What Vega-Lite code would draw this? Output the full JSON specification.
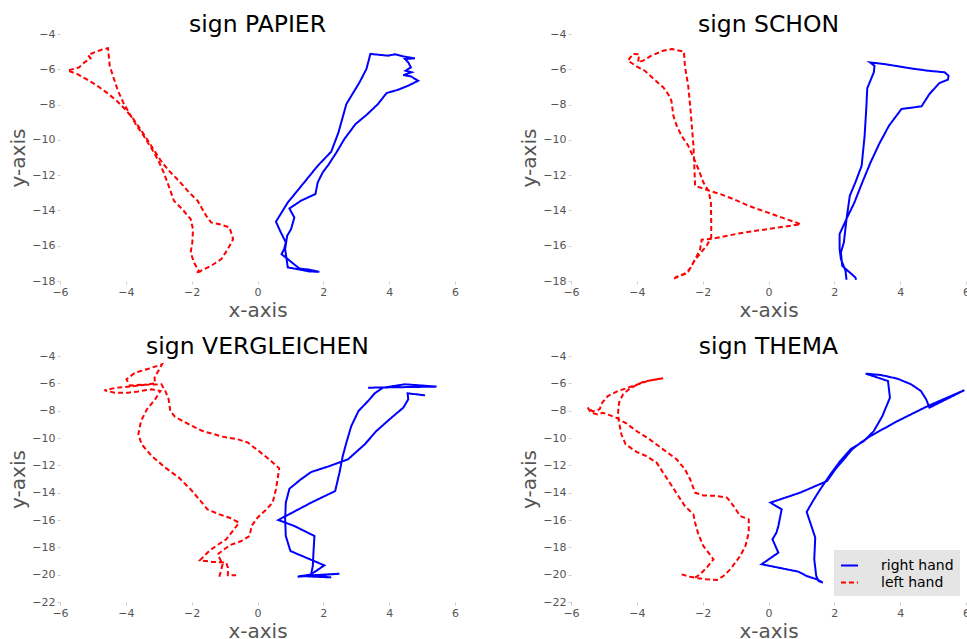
{
"$schema":"https://vega.github.io/schema/vega-lite/v6.json",
"padding":{"left":8,"top":12,"right":0,"bottom":0},
"background":"white",
"columns":2,
"spacing":{"row":14,"column":60},
"resolve":{"legend":{"color":"independent","strokeDash":"independent"}},
"config":{
 "font":"DejaVu Sans",
 "view":{"stroke":null},
 "title":{"fontSize":23.5,"fontWeight":"normal","color":"black","offset":-8,"anchor":"middle"},
 "axis":{"domain":false,"grid":false,"labelColor":"#555","labelFontSize":11,"titleColor":"#555","titleFontSize":20,"titleFontWeight":"normal","tickColor":"#ccc","tickSize":3,"labelPadding":2,"labelFlush":false},
 "axisX":{"titlePadding":3},
 "axisY":{"titlePadding":3},
 "legend":{"orient":"bottom-right","fillColor":"#e5e5e5","padding":6,"offset":6,"labelFontSize":14,"labelColor":"black","symbolType":"stroke","symbolSize":289,"symbolStrokeWidth":2,"labelOffset":22,"rowPadding":0}
},
"concat":[
{
 "width":395,"height":247,"title":"sign PAPIER",
 "data":{"values":[
{"h":"left hand","i":1,"x":-1.85,"y":-17.5},{"h":"left hand","i":2,"x":-1.77,"y":-17.48},{"h":"left hand","i":3,"x":-1.93,"y":-16.95},{"h":"left hand","i":4,"x":-2.03,"y":-16.38},{"h":"left hand","i":5,"x":-1.98,"y":-15.81},{"h":"left hand","i":6,"x":-1.96,"y":-15.06},{"h":"left hand","i":7,"x":-2.03,"y":-14.49},{"h":"left hand","i":8,"x":-2.29,"y":-13.92},{"h":"left hand","i":9,"x":-2.54,"y":-13.45},{"h":"left hand","i":10,"x":-2.7,"y":-12.6},{"h":"left hand","i":11,"x":-2.85,"y":-11.85},{"h":"left hand","i":12,"x":-3.01,"y":-11.18},{"h":"left hand","i":13,"x":-3.21,"y":-10.52},{"h":"left hand","i":14,"x":-3.46,"y":-9.77},{"h":"left hand","i":15,"x":-3.67,"y":-9.2},{"h":"left hand","i":16,"x":-3.88,"y":-8.54},{"h":"left hand","i":17,"x":-4.08,"y":-7.88},{"h":"left hand","i":18,"x":-4.24,"y":-7.21},{"h":"left hand","i":19,"x":-4.36,"y":-6.55},{"h":"left hand","i":20,"x":-4.49,"y":-5.8},{"h":"left hand","i":21,"x":-4.54,"y":-4.81},{"h":"left hand","i":22,"x":-4.74,"y":-4.89},{"h":"left hand","i":23,"x":-4.95,"y":-5.04},{"h":"left hand","i":24,"x":-5.15,"y":-5.19},{"h":"left hand","i":25,"x":-5.07,"y":-5.38},{"h":"left hand","i":26,"x":-5.26,"y":-5.61},{"h":"left hand","i":27,"x":-5.42,"y":-5.89},{"h":"left hand","i":28,"x":-5.77,"y":-6.08},{"h":"left hand","i":29,"x":-5.47,"y":-6.27},{"h":"left hand","i":30,"x":-5.21,"y":-6.55},{"h":"left hand","i":31,"x":-4.9,"y":-6.89},{"h":"left hand","i":32,"x":-4.59,"y":-7.31},{"h":"left hand","i":33,"x":-4.28,"y":-7.78},{"h":"left hand","i":34,"x":-4.03,"y":-8.25},{"h":"left hand","i":35,"x":-3.77,"y":-8.82},{"h":"left hand","i":36,"x":-3.56,"y":-9.39},{"h":"left hand","i":37,"x":-3.36,"y":-9.95},{"h":"left hand","i":38,"x":-3.1,"y":-10.71},{"h":"left hand","i":39,"x":-2.9,"y":-11.28},{"h":"left hand","i":40,"x":-2.64,"y":-11.85},{"h":"left hand","i":41,"x":-2.39,"y":-12.32},{"h":"left hand","i":42,"x":-2.08,"y":-12.98},{"h":"left hand","i":43,"x":-1.82,"y":-13.45},{"h":"left hand","i":44,"x":-1.56,"y":-14.3},{"h":"left hand","i":45,"x":-1.41,"y":-14.68},{"h":"left hand","i":46,"x":-1.15,"y":-14.78},{"h":"left hand","i":47,"x":-0.85,"y":-14.96},{"h":"left hand","i":48,"x":-0.74,"y":-15.63},{"h":"left hand","i":49,"x":-0.9,"y":-16.19},{"h":"left hand","i":50,"x":-1.1,"y":-16.76},{"h":"left hand","i":51,"x":-1.41,"y":-17.14},{"h":"left hand","i":52,"x":-1.62,"y":-17.33},{"h":"left hand","i":53,"x":-1.77,"y":-17.48},
{"h":"right hand","i":1,"x":1.88,"y":-17.48},{"h":"right hand","i":2,"x":1.58,"y":-17.36},{"h":"right hand","i":3,"x":1.27,"y":-17.29},{"h":"right hand","i":4,"x":1.17,"y":-17.14},{"h":"right hand","i":5,"x":0.92,"y":-16.76},{"h":"right hand","i":6,"x":0.73,"y":-16.48},{"h":"right hand","i":7,"x":0.81,"y":-16.19},{"h":"right hand","i":8,"x":0.86,"y":-15.81},{"h":"right hand","i":9,"x":0.71,"y":-15.25},{"h":"right hand","i":10,"x":0.56,"y":-14.64},{"h":"right hand","i":11,"x":0.92,"y":-13.55},{"h":"right hand","i":12,"x":1.42,"y":-12.41},{"h":"right hand","i":13,"x":1.83,"y":-11.47},{"h":"right hand","i":14,"x":2.24,"y":-10.67},{"h":"right hand","i":15,"x":2.46,"y":-9.58},{"h":"right hand","i":16,"x":2.7,"y":-7.97},{"h":"right hand","i":17,"x":3.1,"y":-6.74},{"h":"right hand","i":18,"x":3.31,"y":-5.98},{"h":"right hand","i":19,"x":3.43,"y":-5.13},{"h":"right hand","i":20,"x":3.97,"y":-5.23},{"h":"right hand","i":21,"x":4.17,"y":-5.15},{"h":"right hand","i":22,"x":4.43,"y":-5.27},{"h":"right hand","i":23,"x":4.78,"y":-5.38},{"h":"right hand","i":24,"x":4.48,"y":-5.42},{"h":"right hand","i":25,"x":4.58,"y":-5.61},{"h":"right hand","i":26,"x":4.66,"y":-5.89},{"h":"right hand","i":27,"x":4.5,"y":-6.08},{"h":"right hand","i":28,"x":4.68,"y":-6.17},{"h":"right hand","i":29,"x":4.43,"y":-6.33},{"h":"right hand","i":30,"x":4.66,"y":-6.4},{"h":"right hand","i":31,"x":4.88,"y":-6.65},{"h":"right hand","i":32,"x":4.58,"y":-6.93},{"h":"right hand","i":33,"x":4.27,"y":-7.16},{"h":"right hand","i":34,"x":3.92,"y":-7.35},{"h":"right hand","i":35,"x":3.66,"y":-7.97},{"h":"right hand","i":36,"x":3.31,"y":-8.59},{"h":"right hand","i":37,"x":2.98,"y":-9.1},{"h":"right hand","i":38,"x":2.64,"y":-9.95},{"h":"right hand","i":39,"x":2.4,"y":-10.71},{"h":"right hand","i":40,"x":2.16,"y":-11.4},{"h":"right hand","i":41,"x":1.98,"y":-11.85},{"h":"right hand","i":42,"x":1.83,"y":-12.41},{"h":"right hand","i":43,"x":1.76,"y":-13.07},{"h":"right hand","i":44,"x":1.32,"y":-13.45},{"h":"right hand","i":45,"x":0.97,"y":-13.89},{"h":"right hand","i":46,"x":1.12,"y":-14.4},{"h":"right hand","i":47,"x":1.02,"y":-15.06},{"h":"right hand","i":48,"x":0.9,"y":-15.44},{"h":"right hand","i":49,"x":0.84,"y":-16.19},{"h":"right hand","i":50,"x":0.92,"y":-17.23},{"h":"right hand","i":51,"x":1.22,"y":-17.33},{"h":"right hand","i":52,"x":1.58,"y":-17.46},{"h":"right hand","i":53,"x":1.88,"y":-17.48}
 ]},
 "mark":{"type":"line","strokeWidth":2,"clip":true},
 "encoding":{
  "x":{"field":"x","type":"quantitative","scale":{"domain":[-6,6],"nice":false,"zero":false},"axis":{"values":[-6,-4,-2,0,2,4,6],"title":"x-axis"}},
  "y":{"field":"y","type":"quantitative","scale":{"domain":[-18,-4],"nice":false,"zero":false},"axis":{"values":[-4,-6,-8,-10,-12,-14,-16,-18],"title":"y-axis"}},
  "color":{"field":"h","type":"nominal","title":null,"scale":{"domain":["right hand","left hand"],"range":["#0000ff","#ff0000"]},"legend":null},
  "strokeDash":{"field":"h","type":"nominal","title":null,"scale":{"domain":["right hand","left hand"],"range":[[1,0],[5,3]]},"legend":null},
  "order":{"field":"i","type":"quantitative"}
 }
},
{
 "width":395,"height":247,"title":"sign SCHON",
 "data":{"values":[
{"h":"left hand","i":1,"x":-2.87,"y":-17.86},{"h":"left hand","i":2,"x":-2.69,"y":-17.7},{"h":"left hand","i":3,"x":-2.54,"y":-17.61},{"h":"left hand","i":4,"x":-2.38,"y":-17.29},{"h":"left hand","i":5,"x":-2.23,"y":-16.76},{"h":"left hand","i":6,"x":-2.08,"y":-16.23},{"h":"left hand","i":7,"x":-2.03,"y":-15.66},{"h":"left hand","i":8,"x":-1.67,"y":-15.59},{"h":"left hand","i":9,"x":-0.86,"y":-15.29},{"h":"left hand","i":10,"x":-0.04,"y":-15.06},{"h":"left hand","i":11,"x":0.98,"y":-14.78},{"h":"left hand","i":12,"x":-0.04,"y":-14.11},{"h":"left hand","i":13,"x":-0.6,"y":-13.74},{"h":"left hand","i":14,"x":-1.06,"y":-13.36},{"h":"left hand","i":15,"x":-1.47,"y":-13.07},{"h":"left hand","i":16,"x":-1.88,"y":-12.83},{"h":"left hand","i":17,"x":-2.23,"y":-12.6},{"h":"left hand","i":18,"x":-2.25,"y":-11.66},{"h":"left hand","i":19,"x":-2.28,"y":-10.33},{"h":"left hand","i":20,"x":-2.33,"y":-9.2},{"h":"left hand","i":21,"x":-2.38,"y":-8.06},{"h":"left hand","i":22,"x":-2.44,"y":-6.93},{"h":"left hand","i":23,"x":-2.54,"y":-5.8},{"h":"left hand","i":24,"x":-2.57,"y":-5.0},{"h":"left hand","i":25,"x":-2.94,"y":-4.85},{"h":"left hand","i":26,"x":-3.2,"y":-4.95},{"h":"left hand","i":27,"x":-3.56,"y":-5.23},{"h":"left hand","i":28,"x":-3.81,"y":-5.51},{"h":"left hand","i":29,"x":-3.96,"y":-5.61},{"h":"left hand","i":30,"x":-3.93,"y":-5.15},{"h":"left hand","i":31,"x":-4.12,"y":-5.13},{"h":"left hand","i":32,"x":-4.27,"y":-5.51},{"h":"left hand","i":33,"x":-4.01,"y":-5.83},{"h":"left hand","i":34,"x":-3.76,"y":-6.08},{"h":"left hand","i":35,"x":-3.51,"y":-6.51},{"h":"left hand","i":36,"x":-3.2,"y":-7.02},{"h":"left hand","i":37,"x":-3.05,"y":-7.4},{"h":"left hand","i":38,"x":-2.95,"y":-7.78},{"h":"left hand","i":39,"x":-2.89,"y":-8.63},{"h":"left hand","i":40,"x":-2.79,"y":-9.2},{"h":"left hand","i":41,"x":-2.64,"y":-9.77},{"h":"left hand","i":42,"x":-2.44,"y":-10.33},{"h":"left hand","i":43,"x":-2.28,"y":-10.99},{"h":"left hand","i":44,"x":-2.13,"y":-11.66},{"h":"left hand","i":45,"x":-1.98,"y":-12.41},{"h":"left hand","i":46,"x":-1.82,"y":-12.88},{"h":"left hand","i":47,"x":-1.75,"y":-13.55},{"h":"left hand","i":48,"x":-1.74,"y":-14.68},{"h":"left hand","i":49,"x":-1.74,"y":-15.53},{"h":"left hand","i":50,"x":-1.88,"y":-16.0},{"h":"left hand","i":51,"x":-2.13,"y":-16.57},{"h":"left hand","i":52,"x":-2.28,"y":-16.95},{"h":"left hand","i":53,"x":-2.44,"y":-17.48},{"h":"left hand","i":54,"x":-2.64,"y":-17.65},{"h":"left hand","i":55,"x":-2.84,"y":-17.8},
{"h":"right hand","i":1,"x":2.37,"y":-17.93},{"h":"right hand","i":2,"x":2.34,"y":-17.42},{"h":"right hand","i":3,"x":2.2,"y":-16.76},{"h":"right hand","i":4,"x":2.16,"y":-16.19},{"h":"right hand","i":5,"x":2.16,"y":-15.34},{"h":"right hand","i":6,"x":2.39,"y":-14.4},{"h":"right hand","i":7,"x":2.61,"y":-13.55},{"h":"right hand","i":8,"x":2.85,"y":-12.41},{"h":"right hand","i":9,"x":3.1,"y":-11.28},{"h":"right hand","i":10,"x":3.36,"y":-10.24},{"h":"right hand","i":11,"x":3.66,"y":-9.2},{"h":"right hand","i":12,"x":4.04,"y":-8.25},{"h":"right hand","i":13,"x":4.65,"y":-8.1},{"h":"right hand","i":14,"x":4.89,"y":-7.4},{"h":"right hand","i":15,"x":5.19,"y":-6.78},{"h":"right hand","i":16,"x":5.45,"y":-6.59},{"h":"right hand","i":17,"x":5.47,"y":-6.36},{"h":"right hand","i":18,"x":5.35,"y":-6.17},{"h":"right hand","i":19,"x":4.84,"y":-6.08},{"h":"right hand","i":20,"x":4.33,"y":-5.95},{"h":"right hand","i":21,"x":3.51,"y":-5.7},{"h":"right hand","i":22,"x":3.08,"y":-5.61},{"h":"right hand","i":23,"x":3.22,"y":-5.8},{"h":"right hand","i":24,"x":3.2,"y":-6.17},{"h":"right hand","i":25,"x":3.0,"y":-7.08},{"h":"right hand","i":26,"x":2.97,"y":-8.25},{"h":"right hand","i":27,"x":2.92,"y":-9.77},{"h":"right hand","i":28,"x":2.83,"y":-11.47},{"h":"right hand","i":29,"x":2.64,"y":-12.41},{"h":"right hand","i":30,"x":2.47,"y":-13.17},{"h":"right hand","i":31,"x":2.37,"y":-14.49},{"h":"right hand","i":32,"x":2.29,"y":-15.81},{"h":"right hand","i":33,"x":2.2,"y":-16.38},{"h":"right hand","i":34,"x":2.24,"y":-17.14},{"h":"right hand","i":35,"x":2.64,"y":-17.8},{"h":"right hand","i":36,"x":2.66,"y":-17.93}
 ]},
 "mark":{"type":"line","strokeWidth":2,"clip":true},
 "encoding":{
  "x":{"field":"x","type":"quantitative","scale":{"domain":[-6,6],"nice":false,"zero":false},"axis":{"values":[-6,-4,-2,0,2,4,6],"title":"x-axis"}},
  "y":{"field":"y","type":"quantitative","scale":{"domain":[-18,-4],"nice":false,"zero":false},"axis":{"values":[-4,-6,-8,-10,-12,-14,-16,-18],"title":"y-axis"}},
  "color":{"field":"h","type":"nominal","title":null,"scale":{"domain":["right hand","left hand"],"range":["#0000ff","#ff0000"]},"legend":null},
  "strokeDash":{"field":"h","type":"nominal","title":null,"scale":{"domain":["right hand","left hand"],"range":[[1,0],[5,3]]},"legend":null},
  "order":{"field":"i","type":"quantitative"}
 }
},
{
 "width":395,"height":246,"title":"sign VERGLEICHEN",
 "data":{"values":[
{"h":"left hand","i":1,"x":-1.16,"y":-20.15},{"h":"left hand","i":2,"x":-1.06,"y":-19.24},{"h":"left hand","i":3,"x":-1.21,"y":-18.51},{"h":"left hand","i":4,"x":-0.85,"y":-17.85},{"h":"left hand","i":5,"x":-0.49,"y":-17.54},{"h":"left hand","i":6,"x":-0.24,"y":-17.17},{"h":"left hand","i":7,"x":-0.18,"y":-16.44},{"h":"left hand","i":8,"x":0.0,"y":-15.83},{"h":"left hand","i":9,"x":0.25,"y":-15.27},{"h":"left hand","i":10,"x":0.46,"y":-14.73},{"h":"left hand","i":11,"x":0.56,"y":-13.76},{"h":"left hand","i":12,"x":0.61,"y":-13.02},{"h":"left hand","i":13,"x":0.66,"y":-12.22},{"h":"left hand","i":14,"x":0.41,"y":-11.68},{"h":"left hand","i":15,"x":0.1,"y":-11.07},{"h":"left hand","i":16,"x":-0.29,"y":-10.34},{"h":"left hand","i":17,"x":-0.59,"y":-10.1},{"h":"left hand","i":18,"x":-1.06,"y":-9.9},{"h":"left hand","i":19,"x":-1.67,"y":-9.49},{"h":"left hand","i":20,"x":-2.18,"y":-8.88},{"h":"left hand","i":21,"x":-2.51,"y":-8.44},{"h":"left hand","i":22,"x":-2.65,"y":-8.02},{"h":"left hand","i":23,"x":-2.7,"y":-7.17},{"h":"left hand","i":24,"x":-2.8,"y":-6.56},{"h":"left hand","i":25,"x":-2.92,"y":-6.07},{"h":"left hand","i":26,"x":-3.42,"y":-6.1},{"h":"left hand","i":27,"x":-3.88,"y":-6.15},{"h":"left hand","i":28,"x":-3.98,"y":-5.71},{"h":"left hand","i":29,"x":-3.72,"y":-5.22},{"h":"left hand","i":30,"x":-3.31,"y":-4.93},{"h":"left hand","i":31,"x":-2.9,"y":-4.61},{"h":"left hand","i":32,"x":-3.13,"y":-5.59},{"h":"left hand","i":33,"x":-3.11,"y":-6.0},{"h":"left hand","i":34,"x":-3.47,"y":-6.12},{"h":"left hand","i":35,"x":-3.88,"y":-6.24},{"h":"left hand","i":36,"x":-4.29,"y":-6.32},{"h":"left hand","i":37,"x":-4.65,"y":-6.51},{"h":"left hand","i":38,"x":-4.34,"y":-6.68},{"h":"left hand","i":39,"x":-3.93,"y":-6.68},{"h":"left hand","i":40,"x":-3.62,"y":-6.59},{"h":"left hand","i":41,"x":-3.21,"y":-6.44},{"h":"left hand","i":42,"x":-2.95,"y":-6.56},{"h":"left hand","i":43,"x":-3.11,"y":-7.17},{"h":"left hand","i":44,"x":-3.36,"y":-7.9},{"h":"left hand","i":45,"x":-3.54,"y":-8.76},{"h":"left hand","i":46,"x":-3.62,"y":-9.73},{"h":"left hand","i":47,"x":-3.52,"y":-10.46},{"h":"left hand","i":48,"x":-3.21,"y":-11.32},{"h":"left hand","i":49,"x":-2.8,"y":-12.17},{"h":"left hand","i":50,"x":-2.39,"y":-12.9},{"h":"left hand","i":51,"x":-2.03,"y":-13.76},{"h":"left hand","i":52,"x":-1.77,"y":-14.49},{"h":"left hand","i":53,"x":-1.52,"y":-15.22},{"h":"left hand","i":54,"x":-1.16,"y":-15.59},{"h":"left hand","i":55,"x":-0.85,"y":-15.83},{"h":"left hand","i":56,"x":-0.56,"y":-16.2},{"h":"left hand","i":57,"x":-0.75,"y":-16.8},{"h":"left hand","i":58,"x":-0.95,"y":-17.41},{"h":"left hand","i":59,"x":-1.26,"y":-17.9},{"h":"left hand","i":60,"x":-1.47,"y":-18.27},{"h":"left hand","i":61,"x":-1.75,"y":-18.95},{"h":"left hand","i":62,"x":-1.36,"y":-19.07},{"h":"left hand","i":63,"x":-0.95,"y":-19.12},{"h":"left hand","i":64,"x":-0.9,"y":-19.49},{"h":"left hand","i":65,"x":-0.9,"y":-20.05},{"h":"left hand","i":66,"x":-0.65,"y":-20.05},
{"h":"right hand","i":1,"x":3.36,"y":-6.32},{"h":"right hand","i":2,"x":5.44,"y":-6.24},{"h":"right hand","i":3,"x":4.48,"y":-6.07},{"h":"right hand","i":4,"x":3.81,"y":-6.32},{"h":"right hand","i":5,"x":3.56,"y":-6.73},{"h":"right hand","i":6,"x":3.36,"y":-7.29},{"h":"right hand","i":7,"x":3.07,"y":-8.02},{"h":"right hand","i":8,"x":2.85,"y":-9.12},{"h":"right hand","i":9,"x":2.7,"y":-10.34},{"h":"right hand","i":10,"x":2.59,"y":-11.32},{"h":"right hand","i":11,"x":2.49,"y":-12.54},{"h":"right hand","i":12,"x":2.36,"y":-13.88},{"h":"right hand","i":13,"x":1.63,"y":-14.73},{"h":"right hand","i":14,"x":0.86,"y":-15.71},{"h":"right hand","i":15,"x":0.63,"y":-16.0},{"h":"right hand","i":16,"x":1.12,"y":-16.44},{"h":"right hand","i":17,"x":1.73,"y":-17.17},{"h":"right hand","i":18,"x":1.7,"y":-18.39},{"h":"right hand","i":19,"x":1.68,"y":-19.37},{"h":"right hand","i":20,"x":1.63,"y":-19.98},{"h":"right hand","i":21,"x":1.22,"y":-20.15},{"h":"right hand","i":22,"x":2.49,"y":-19.93},{"h":"right hand","i":23,"x":1.27,"y":-20.1},{"h":"right hand","i":24,"x":2.24,"y":-20.2},{"h":"right hand","i":25,"x":1.58,"y":-20.05},{"h":"right hand","i":26,"x":2.03,"y":-19.32},{"h":"right hand","i":27,"x":1.0,"y":-18.27},{"h":"right hand","i":28,"x":0.86,"y":-17.17},{"h":"right hand","i":29,"x":0.84,"y":-15.95},{"h":"right hand","i":30,"x":0.86,"y":-14.73},{"h":"right hand","i":31,"x":0.97,"y":-13.71},{"h":"right hand","i":32,"x":1.32,"y":-13.02},{"h":"right hand","i":33,"x":1.63,"y":-12.49},{"h":"right hand","i":34,"x":2.19,"y":-12.05},{"h":"right hand","i":35,"x":2.75,"y":-11.56},{"h":"right hand","i":36,"x":3.26,"y":-10.46},{"h":"right hand","i":37,"x":3.61,"y":-9.49},{"h":"right hand","i":38,"x":4.07,"y":-8.51},{"h":"right hand","i":39,"x":4.43,"y":-7.78},{"h":"right hand","i":40,"x":4.58,"y":-7.17},{"h":"right hand","i":41,"x":4.56,"y":-6.73},{"h":"right hand","i":42,"x":5.09,"y":-6.88}
 ]},
 "mark":{"type":"line","strokeWidth":2,"clip":true},
 "encoding":{
  "x":{"field":"x","type":"quantitative","scale":{"domain":[-6,6],"nice":false,"zero":false},"axis":{"values":[-6,-4,-2,0,2,4,6],"title":"x-axis"}},
  "y":{"field":"y","type":"quantitative","scale":{"domain":[-22,-4],"nice":false,"zero":false},"axis":{"values":[-4,-6,-8,-10,-12,-14,-16,-18,-20,-22],"title":"y-axis"}},
  "color":{"field":"h","type":"nominal","title":null,"scale":{"domain":["right hand","left hand"],"range":["#0000ff","#ff0000"]},"legend":null},
  "strokeDash":{"field":"h","type":"nominal","title":null,"scale":{"domain":["right hand","left hand"],"range":[[1,0],[5,3]]},"legend":null},
  "order":{"field":"i","type":"quantitative"}
 }
},
{
 "width":395,"height":246,"title":"sign THEMA",
 "data":{"values":[
{"h":"left hand","i":1,"x":-2.64,"y":-19.98},{"h":"left hand","i":2,"x":-2.38,"y":-20.15},{"h":"left hand","i":3,"x":-2.13,"y":-20.27},{"h":"left hand","i":4,"x":-1.88,"y":-20.34},{"h":"left hand","i":5,"x":-1.57,"y":-20.39},{"h":"left hand","i":6,"x":-1.37,"y":-20.1},{"h":"left hand","i":7,"x":-1.16,"y":-19.61},{"h":"left hand","i":8,"x":-0.86,"y":-18.63},{"h":"left hand","i":9,"x":-0.7,"y":-17.9},{"h":"left hand","i":10,"x":-0.6,"y":-16.93},{"h":"left hand","i":11,"x":-0.6,"y":-15.95},{"h":"left hand","i":12,"x":-0.86,"y":-15.71},{"h":"left hand","i":13,"x":-1.06,"y":-14.98},{"h":"left hand","i":14,"x":-1.26,"y":-14.37},{"h":"left hand","i":15,"x":-1.57,"y":-14.24},{"h":"left hand","i":16,"x":-1.98,"y":-14.2},{"h":"left hand","i":17,"x":-2.23,"y":-14.0},{"h":"left hand","i":18,"x":-2.38,"y":-13.02},{"h":"left hand","i":19,"x":-2.54,"y":-12.29},{"h":"left hand","i":20,"x":-2.79,"y":-11.56},{"h":"left hand","i":21,"x":-3.2,"y":-10.83},{"h":"left hand","i":22,"x":-3.61,"y":-10.1},{"h":"left hand","i":23,"x":-4.01,"y":-9.49},{"h":"left hand","i":24,"x":-4.32,"y":-8.93},{"h":"left hand","i":25,"x":-4.63,"y":-8.51},{"h":"left hand","i":26,"x":-5.03,"y":-8.15},{"h":"left hand","i":27,"x":-5.19,"y":-8.27},{"h":"left hand","i":28,"x":-5.39,"y":-8.15},{"h":"left hand","i":29,"x":-5.49,"y":-7.78},{"h":"left hand","i":30,"x":-5.34,"y":-8.05},{"h":"left hand","i":31,"x":-5.13,"y":-7.9},{"h":"left hand","i":32,"x":-5.05,"y":-7.41},{"h":"left hand","i":33,"x":-4.88,"y":-6.93},{"h":"left hand","i":34,"x":-4.57,"y":-6.56},{"h":"left hand","i":35,"x":-4.27,"y":-6.32},{"h":"left hand","i":36,"x":-3.96,"y":-6.07},{"h":"left hand","i":37,"x":-3.61,"y":-5.78},{"h":"left hand","i":38,"x":-3.2,"y":-5.63},{"h":"left hand","i":39,"x":-3.76,"y":-5.85},{"h":"left hand","i":40,"x":-4.01,"y":-6.12},{"h":"left hand","i":41,"x":-4.22,"y":-6.39},{"h":"left hand","i":42,"x":-4.42,"y":-6.8},{"h":"left hand","i":43,"x":-4.54,"y":-7.41},{"h":"left hand","i":44,"x":-4.57,"y":-8.15},{"h":"left hand","i":45,"x":-4.54,"y":-8.88},{"h":"left hand","i":46,"x":-4.47,"y":-9.73},{"h":"left hand","i":47,"x":-4.34,"y":-10.46},{"h":"left hand","i":48,"x":-4.01,"y":-11.02},{"h":"left hand","i":49,"x":-3.71,"y":-11.32},{"h":"left hand","i":50,"x":-3.4,"y":-11.8},{"h":"left hand","i":51,"x":-3.2,"y":-12.54},{"h":"left hand","i":52,"x":-3.0,"y":-13.27},{"h":"left hand","i":53,"x":-2.74,"y":-14.24},{"h":"left hand","i":54,"x":-2.54,"y":-14.98},{"h":"left hand","i":55,"x":-2.28,"y":-15.59},{"h":"left hand","i":56,"x":-2.23,"y":-16.2},{"h":"left hand","i":57,"x":-2.13,"y":-17.05},{"h":"left hand","i":58,"x":-1.98,"y":-17.9},{"h":"left hand","i":59,"x":-1.67,"y":-18.88},{"h":"left hand","i":60,"x":-1.88,"y":-19.49},{"h":"left hand","i":61,"x":-2.08,"y":-19.98},{"h":"left hand","i":62,"x":-2.23,"y":-20.22},
{"h":"right hand","i":1,"x":1.65,"y":-20.59},{"h":"right hand","i":2,"x":1.47,"y":-20.34},{"h":"right hand","i":3,"x":1.16,"y":-20.1},{"h":"right hand","i":4,"x":0.91,"y":-19.78},{"h":"right hand","i":5,"x":-0.21,"y":-19.24},{"h":"right hand","i":6,"x":0.3,"y":-18.39},{"h":"right hand","i":7,"x":0.12,"y":-17.41},{"h":"right hand","i":8,"x":0.24,"y":-16.93},{"h":"right hand","i":9,"x":0.3,"y":-16.44},{"h":"right hand","i":10,"x":0.4,"y":-15.22},{"h":"right hand","i":11,"x":0.06,"y":-14.73},{"h":"right hand","i":12,"x":0.96,"y":-14.0},{"h":"right hand","i":13,"x":1.78,"y":-13.15},{"h":"right hand","i":14,"x":2.03,"y":-12.29},{"h":"right hand","i":15,"x":2.29,"y":-11.56},{"h":"right hand","i":16,"x":2.54,"y":-10.83},{"h":"right hand","i":17,"x":2.8,"y":-10.34},{"h":"right hand","i":18,"x":3.1,"y":-9.85},{"h":"right hand","i":19,"x":3.92,"y":-8.76},{"h":"right hand","i":20,"x":4.84,"y":-7.66},{"h":"right hand","i":21,"x":5.95,"y":-6.5},{"h":"right hand","i":22,"x":4.89,"y":-7.78},{"h":"right hand","i":23,"x":4.79,"y":-7.17},{"h":"right hand","i":24,"x":4.63,"y":-6.56},{"h":"right hand","i":25,"x":4.33,"y":-6.07},{"h":"right hand","i":26,"x":3.92,"y":-5.66},{"h":"right hand","i":27,"x":3.41,"y":-5.39},{"h":"right hand","i":28,"x":2.95,"y":-5.29},{"h":"right hand","i":29,"x":3.63,"y":-5.83},{"h":"right hand","i":30,"x":3.69,"y":-7.05},{"h":"right hand","i":31,"x":3.46,"y":-8.39},{"h":"right hand","i":32,"x":3.2,"y":-9.49},{"h":"right hand","i":33,"x":2.9,"y":-10.22},{"h":"right hand","i":34,"x":2.49,"y":-10.83},{"h":"right hand","i":35,"x":2.18,"y":-11.68},{"h":"right hand","i":36,"x":1.88,"y":-12.66},{"h":"right hand","i":37,"x":1.57,"y":-13.76},{"h":"right hand","i":38,"x":1.35,"y":-14.61},{"h":"right hand","i":39,"x":1.16,"y":-15.41},{"h":"right hand","i":40,"x":1.27,"y":-16.2},{"h":"right hand","i":41,"x":1.42,"y":-17.29},{"h":"right hand","i":42,"x":1.39,"y":-18.88},{"h":"right hand","i":43,"x":1.45,"y":-20.1},{"h":"right hand","i":44,"x":1.52,"y":-20.46},{"h":"right hand","i":45,"x":1.65,"y":-20.59}
 ]},
 "mark":{"type":"line","strokeWidth":2,"clip":true},
 "encoding":{
  "x":{"field":"x","type":"quantitative","scale":{"domain":[-6,6],"nice":false,"zero":false},"axis":{"values":[-6,-4,-2,0,2,4,6],"title":"x-axis"}},
  "y":{"field":"y","type":"quantitative","scale":{"domain":[-22,-4],"nice":false,"zero":false},"axis":{"values":[-4,-6,-8,-10,-12,-14,-16,-18,-20,-22],"title":"y-axis"}},
  "color":{"field":"h","type":"nominal","title":null,"scale":{"domain":["right hand","left hand"],"range":["#0000ff","#ff0000"]}},
  "strokeDash":{"field":"h","type":"nominal","title":null,"scale":{"domain":["right hand","left hand"],"range":[[1,0],[5,3]]}},
  "order":{"field":"i","type":"quantitative"}
 }
}
]
}
